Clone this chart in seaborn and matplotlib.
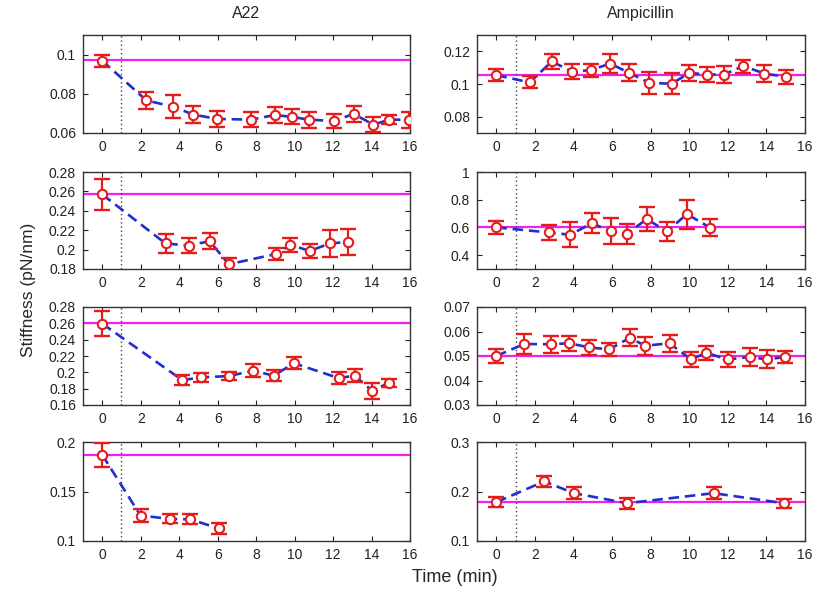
import matplotlib
matplotlib.use("Agg")
import matplotlib.pyplot as plt
import seaborn as sns
import numpy as np

# ---------------- data ----------------
# A22 panels
a1_x = [0, 2.3, 3.7, 4.73, 5.97, 7.74, 8.97, 9.85, 10.77, 12.03, 13.07, 14.1, 14.93, 15.93]
a1_y = [0.0969, 0.0766, 0.0734, 0.0694, 0.0672, 0.0668, 0.0692, 0.0682, 0.0668, 0.0661, 0.0697, 0.0643, 0.0668, 0.0668]
a1_e = [0.003, 0.0043, 0.006, 0.0045, 0.0042, 0.0038, 0.004, 0.0038, 0.004, 0.0036, 0.004, 0.0037, 0.0023, 0.004]
a1_ref = 0.0974

a2_x = [0, 3.29, 4.5, 5.58, 6.58, 9.04, 9.78, 10.79, 11.83, 12.8]
a2_y = [0.2569, 0.2063, 0.2042, 0.2087, 0.1849, 0.1955, 0.2049, 0.1986, 0.2063, 0.208]
a2_e = [0.016, 0.0094, 0.0073, 0.0083, 0.0066, 0.0062, 0.0071, 0.0073, 0.0139, 0.0134]
a2_ref = 0.2572

a3_x = [0, 4.16, 5.16, 6.61, 7.83, 8.92, 9.96, 12.29, 13.13, 14.03, 14.9]
a3_y = [0.2596, 0.1905, 0.1938, 0.1955, 0.2021, 0.1959, 0.2112, 0.193, 0.1959, 0.1772, 0.1871]
a3_e = [0.015, 0.0062, 0.0052, 0.0052, 0.0079, 0.0066, 0.0073, 0.0077, 0.0083, 0.0102, 0.0046]
a3_ref = 0.26

a4_x = [0, 1.99, 3.54, 4.58, 6.05]
a4_y = [0.187, 0.1257, 0.1223, 0.1219, 0.1127]
a4_e = [0.012, 0.0065, 0.0046, 0.005, 0.0058]
a4_ref = 0.187

# Ampicillin panels
b1_x = [0, 1.73, 2.88, 3.92, 4.9, 5.9, 6.89, 7.94, 9.1, 10.0, 10.9, 11.8, 12.8, 13.9, 15.0]
b1_y = [0.1054, 0.101, 0.1138, 0.1076, 0.1085, 0.1125, 0.1068, 0.1006, 0.1002, 0.1068, 0.1058, 0.1058, 0.111, 0.1064, 0.1044]
b1_e = [0.0036, 0.0037, 0.0044, 0.0047, 0.004, 0.0056, 0.0052, 0.0066, 0.0063, 0.005, 0.0044, 0.005, 0.004, 0.005, 0.0044]
b1_ref = 0.1054

b2_x = [0, 2.71, 3.83, 4.96, 5.94, 6.77, 7.8, 8.84, 9.88, 11.09]
b2_y = [0.6, 0.564, 0.547, 0.631, 0.571, 0.554, 0.66, 0.571, 0.696, 0.598]
b2_e = [0.044, 0.057, 0.089, 0.073, 0.094, 0.071, 0.085, 0.066, 0.105, 0.06]
b2_ref = 0.6

b3_x = [0, 1.45, 2.85, 3.78, 4.82, 5.86, 6.91, 7.72, 8.98, 10.09, 10.88, 11.99, 13.16, 14.02, 14.97]
b3_y = [0.05, 0.0549, 0.0548, 0.0552, 0.0535, 0.0527, 0.0574, 0.0542, 0.0552, 0.0486, 0.0513, 0.0486, 0.0496, 0.0486, 0.0496]
b3_e = [0.0029, 0.0039, 0.0034, 0.003, 0.003, 0.0026, 0.0035, 0.0037, 0.0035, 0.003, 0.0029, 0.003, 0.0036, 0.0037, 0.0025]
b3_ref = 0.05

b4_x = [0, 2.48, 4.03, 6.78, 11.26, 14.92]
b4_y = [0.1786, 0.2203, 0.1966, 0.1763, 0.1966, 0.1763]
b4_e = [0.01, 0.0115, 0.012, 0.011, 0.0115, 0.009]
b4_ref = 0.1797

# axis settings per panel
a_ylims = [(0.06, 0.11), (0.18, 0.28), (0.16, 0.28), (0.1, 0.2)]
a_yticks = [[0.06, 0.08, 0.1], [0.18, 0.2, 0.22, 0.24, 0.26, 0.28],
            [0.16, 0.18, 0.2, 0.22, 0.24, 0.26, 0.28], [0.1, 0.15, 0.2]]
a_yticklabels = [["0.06", "0.08", "0.1"], ["0.18", "0.2", "0.22", "0.24", "0.26", "0.28"],
                 ["0.16", "0.18", "0.2", "0.22", "0.24", "0.26", "0.28"], ["0.1", "0.15", "0.2"]]
b_ylims = [(0.07, 0.13), (0.3, 1.0), (0.03, 0.07), (0.1, 0.3)]
b_yticks = [[0.08, 0.1, 0.12], [0.4, 0.6, 0.8, 1.0], [0.03, 0.04, 0.05, 0.06, 0.07], [0.1, 0.2, 0.3]]
b_yticklabels = [["0.08", "0.1", "0.12"], ["0.4", "0.6", "0.8", "1"],
                 ["0.03", "0.04", "0.05", "0.06", "0.07"], ["0.1", "0.2", "0.3"]]
xticks = [0, 2, 4, 6, 8, 10, 12, 14, 16]
col_titles = ["A22", "Ampicillin"]

# ---------------- plotting ----------------
sns.set_style("ticks")
plt.rcParams["font.family"] = ["Liberation Sans", "DejaVu Sans"]

W, H = 813, 594
fig = plt.figure(figsize=(W / 100, H / 100), dpi=100)

col_px = [(83, 410), (477, 805)]
row_px = [(35, 133), (172, 269), (307, 405), (442, 541)]

panels = [
    [(a1_x, a1_y, a1_e, a1_ref), (b1_x, b1_y, b1_e, b1_ref)],
    [(a2_x, a2_y, a2_e, a2_ref), (b2_x, b2_y, b2_e, b2_ref)],
    [(a3_x, a3_y, a3_e, a3_ref), (b3_x, b3_y, b3_e, b3_ref)],
    [(a4_x, a4_y, a4_e, a4_ref), (b4_x, b4_y, b4_e, b4_ref)],
]

blue = "#1f2fd0"
red = "#e51c1c"
mag = "#f020f0"

for r in range(4):
    for c in range(2):
        x0, x1 = col_px[c]
        y0, y1 = row_px[r]
        ax = fig.add_axes([x0 / W, 1 - y1 / H, (x1 - x0) / W, (y1 - y0) / H])
        xs, ys, es, ref = panels[r][c]
        ax.axhline(ref, color=mag, lw=1.6, zorder=1)
        ax.axvline(1, color="#444444", lw=1.0, ls=(0, (1, 2)), zorder=1)
        sns.lineplot(x=xs, y=ys, ax=ax, color=blue, lw=1.9, zorder=2,
                     sort=False, estimator=None)
        ax.lines[-1].set_dashes([4, 2.2])
        ax.errorbar(xs, ys, yerr=es, fmt="none", ecolor=red, elinewidth=1.6,
                    capsize=6, capthick=1.7, zorder=3)
        sns.scatterplot(x=xs, y=ys, ax=ax, marker="o", s=45, facecolor="white",
                        edgecolor=red, linewidth=1.5, zorder=4)
        ax.set_xlim(-1, 16)
        ax.set_xticks(xticks)
        ax.set_xticklabels([str(t) for t in xticks])
        if c == 0:
            ax.set_ylim(*a_ylims[r])
            ax.set_yticks(a_yticks[r])
            ax.set_yticklabels(a_yticklabels[r])
        else:
            ax.set_ylim(*b_ylims[r])
            ax.set_yticks(b_yticks[r])
            ax.set_yticklabels(b_yticklabels[r])
        ax.tick_params(direction="in", top=True, right=True, length=3.5,
                       width=0.8, labelsize=10, colors="#222222", pad=5)
        for sp in ax.spines.values():
            sp.set_color("#333333")
            sp.set_linewidth(1.0)
        ax.set_xlabel("")
        ax.set_ylabel("")
        if r == 0:
            ax.set_title(col_titles[c], fontsize=11.5, pad=12)

fig.text(28 / W, 1 - 290 / H, "Stiffness (pN/nm)", rotation=90, ha="center",
         va="center", fontsize=12.5)
fig.text(455 / W, 1 - 578 / H, "Time (min)", ha="center", va="center", fontsize=13)

fig.savefig("out.png", dpi=100)
